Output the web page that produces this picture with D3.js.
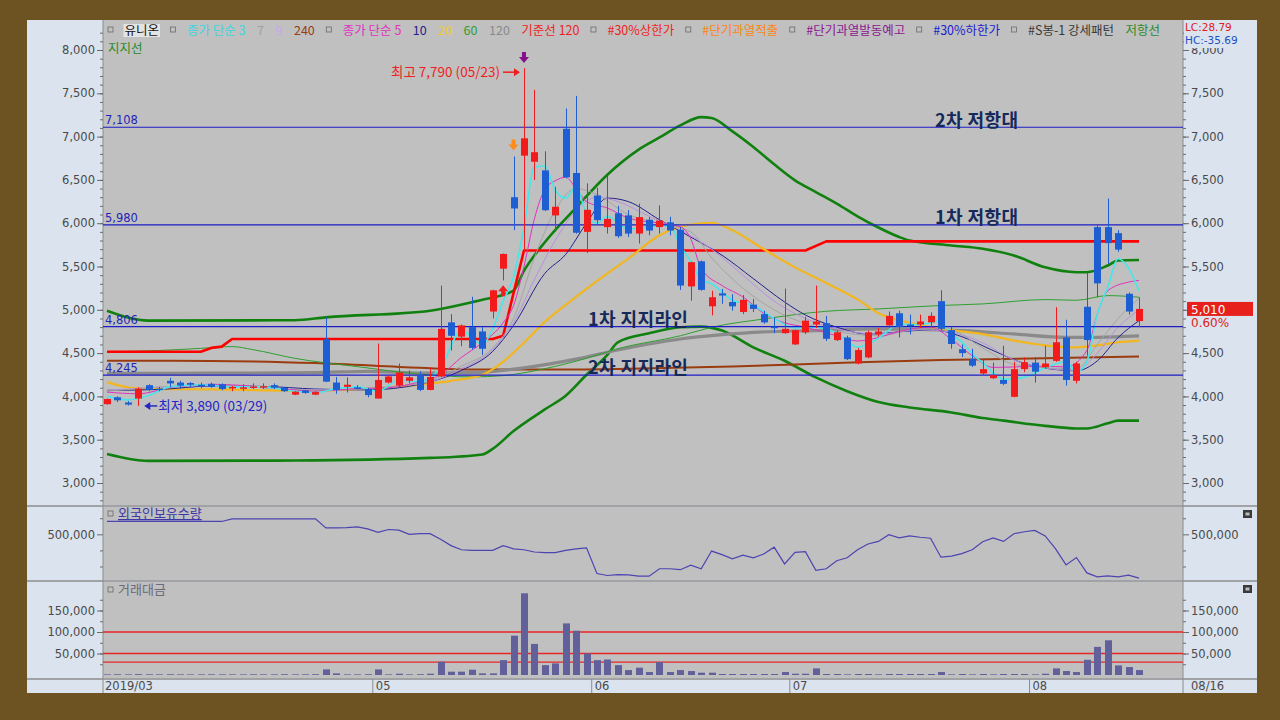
<!DOCTYPE html>
<html><head><meta charset="utf-8">
<script src="https://cdn.jsdelivr.net/npm/d3@7"></script>
<style>body{margin:0;background:#6e5322;}svg{display:block;}</style>
</head><body><svg id="c" width="1280" height="720"></svg>
<script>
// ---------------- DATA ----------------
const dates = ["03/26","03/27","03/28","03/29",
"04/01","04/02","04/03","04/04","04/05","04/08","04/09","04/10","04/11","04/12","04/15","04/16","04/17","04/18","04/19","04/22","04/23","04/24","04/25","04/26","04/29","04/30",
"05/02","05/03","05/07","05/08","05/09","05/10","05/13","05/14","05/15","05/16","05/17","05/20","05/21","05/22","05/23","05/24","05/27","05/28","05/29","05/30","05/31",
"06/03","06/04","06/05","06/07","06/10","06/11","06/12","06/13","06/14","06/17","06/18","06/19","06/20","06/21","06/24","06/25","06/26","06/27","06/28",
"07/01","07/02","07/03","07/04","07/05","07/08","07/09","07/10","07/11","07/12","07/15","07/16","07/17","07/18","07/19","07/22","07/23","07/24","07/25","07/26","07/29","07/30","07/31",
"08/01","08/02","08/05","08/06","08/07","08/08","08/09","08/12","08/13","08/14","08/16"];
const open  = [3910,3990,3930,3975,4130,4090,4180,4160,4155,4135,4145,4140,4100,4100,4105,4110,4130,4100,4020,4070,4020,4660,4160,4110,4105,4085,3975,4160,4125,4180,4240,4075,4230,4855,4690,4800,4750,4980,5475,6300,6780,6710,6610,6090,7090,6580,5900,6320,5955,6115,6090,5880,6040,5955,6010,5925,5270,5560,5040,5190,5090,4975,5060,4950,4805,4730,4600,4740,4830,4845,4650,4680,4380,4450,4715,4820,4960,4830,4830,4855,5100,4765,4545,4430,4265,4210,4190,3995,4315,4390,4335,4410,4680,4180,5035,5955,5955,5885,5185,4870];
const high  = [3975,4000,3945,4105,4140,4110,4215,4180,4165,4160,4160,4150,4120,4140,4150,4150,4150,4110,4060,4075,4060,4910,4225,4220,4130,4100,4610,4240,4380,4300,4290,4335,5280,4950,4830,5150,4800,5230,5650,6770,7790,7540,6830,6420,7325,7470,6460,6410,6550,6200,6150,6225,6070,6205,6075,5955,5555,5570,5220,5240,5180,5170,5125,4990,4910,5245,4770,4920,5280,4930,4760,4700,4560,4760,4790,4980,4990,4945,4945,4970,5225,4800,4600,4550,4430,4390,4585,4400,4450,4450,4585,5030,4885,4400,5425,5980,6285,5920,5200,5145];
const low   = [3905,3935,3895,3890,4060,4060,4105,4090,4110,4095,4100,4070,4060,4060,4085,4085,4085,4050,4015,4030,4015,4165,4030,4045,4080,3990,3975,4150,4100,4150,4060,4070,4225,4530,4580,4540,4480,4900,5340,5920,5670,6500,6140,5900,6520,5880,5655,5995,5880,5830,5840,5765,5860,5880,5860,5230,5105,5220,4935,5070,4990,4950,4975,4840,4730,4725,4595,4720,4790,4640,4640,4420,4370,4440,4690,4790,4680,4715,4790,4800,4760,4550,4455,4340,4240,4200,4130,3990,4280,4160,4320,4400,4125,4150,4470,5145,5530,5670,4945,4800];
const close = [3970,3955,3905,4090,4075,4085,4150,4125,4135,4130,4110,4085,4110,4105,4115,4118,4100,4060,4055,4040,4050,4170,4075,4135,4100,4015,4190,4230,4275,4220,4075,4225,4780,4700,4820,4560,4550,5225,5645,6170,6980,6820,6150,6190,6530,5890,6155,6035,6050,5850,5880,6070,5915,6030,5915,5280,5550,5230,5145,5165,5040,5115,5010,4855,4795,4780,4765,4875,4865,4665,4740,4430,4535,4740,4750,4930,4800,4825,4865,4930,4780,4605,4500,4355,4315,4245,4145,4315,4395,4285,4380,4625,4190,4380,4650,5305,5770,5695,4980,5010];

// moving averages / bands: [day index, value]
const ma3   = [[0,4000],[2,3960],[4,4010],[6,4110],[9,4135],[12,4110],[15,4110],[18,4060],[20,4045],[22,4090],[24,4110],[26,4060],[28,4190],[30,4170],[32,4330],[34,4760],[36,4600],[37,4780],[38,5100],[39,5380],[40,5950],[41,6650],[42,6660],[43,6380],[44,6290],[45,6420],[46,6100],[47,6000],[48,6080],[50,5930],[52,5960],[54,5970],[55,5740],[56,5560],[57,5350],[58,5300],[60,5110],[62,5050],[64,4900],[66,4790],[68,4800],[70,4730],[72,4570],[74,4670],[76,4830],[78,4830],[80,4870],[81,4720],[82,4630],[83,4490],[84,4390],[86,4200],[88,4220],[90,4330],[92,4400],[93,4280],[94,4400],[95,4950],[96,5260],[97,5590],[98,5480],[99,5220]];
const ma5   = [[0,4050],[3,4030],[6,4100],[10,4140],[15,4110],[20,4060],[24,4090],[27,4100],[30,4170],[32,4250],[34,4450],[36,4620],[38,4850],[39,5050],[40,5500],[41,6050],[42,6390],[43,6490],[44,6530],[45,6400],[46,6250],[48,6175],[50,6060],[53,6000],[55,5960],[56,5820],[57,5480],[59,5280],[61,5150],[63,4960],[65,4850],[67,4800],[70,4700],[72,4640],[74,4680],[76,4750],[79,4800],[81,4660],[83,4470],[85,4335],[87,4340],[90,4350],[92,4340],[94,4530],[95,4950],[96,5220],[98,5320],[99,5340]];
const ma7   = [[0,4060],[10,4130],[20,4070],[30,4150],[34,4350],[37,4560],[39,4900],[41,5600],[43,6150],[45,6400],[47,6330],[50,6100],[53,6000],[56,5900],[58,5600],[61,5250],[64,5000],[67,4840],[70,4750],[74,4700],[78,4780],[81,4760],[84,4560],[87,4370],[90,4330],[93,4320],[95,4600],[97,4900],[99,5130]];
const ma9   = [[0,4070],[10,4125],[20,4075],[30,4145],[34,4320],[37,4540],[39,4850],[41,5350],[43,5800],[45,6150],[47,6300],[49,6250],[52,6080],[55,5920],[58,5700],[61,5400],[64,5100],[67,4900],[70,4780],[74,4720],[78,4770],[81,4740],[84,4620],[87,4420],[90,4330],[93,4300],[95,4500],[97,4800],[99,5000]];
const ma10  = [[0,4070],[5,4080],[10,4120],[15,4115],[20,4085],[25,4075],[30,4140],[34,4300],[37,4520],[39,4820],[42,5420],[44,5640],[46,6000],[48,6290],[50,6250],[53,6040],[56,5840],[59,5630],[62,5360],[65,5090],[67,4940],[70,4800],[73,4720],[76,4745],[79,4770],[82,4690],[85,4530],[88,4380],[91,4310],[93,4296],[95,4410],[97,4680],[99,4875]];
const ma20  = [[0,4165],[3,4090],[10,4080],[20,4065],[25,4090],[30,4135],[33,4180],[36,4250],[38,4400],[40,4620],[42,4860],[45,5150],[48,5420],[50,5590],[53,5860],[56,5985],[58,6005],[60,5920],[63,5700],[66,5490],[69,5310],[72,5120],[74,4960],[77,4850],[80,4780],[84,4720],[87,4645],[90,4590],[93,4566],[95,4590],[97,4625],[99,4645]];
const ma60  = [[0,4515],[5,4530],[9,4555],[12,4575],[14,4540],[18,4440],[24,4344],[30,4258],[35,4225],[38,4240],[42,4320],[46,4440],[49,4551],[55,4700],[58,4798],[63,4894],[69,4983],[74,5010],[80,5050],[84,5068],[90,5118],[93,5110],[96,5164],[99,5145]];
const ma120 = [[0,4265],[10,4268],[20,4275],[25,4290],[30,4270],[35,4275],[40,4330],[45,4430],[49,4536],[52,4605],[55,4663],[59,4713],[62,4740],[68,4760],[74,4779],[82,4760],[87,4721],[92,4682],[95,4682],[99,4698]];
const ma240 = [[0,4413],[10,4410],[20,4385],[30,4330],[35,4310],[45,4310],[50,4318],[60,4345],[70,4385],[80,4420],[90,4440],[99,4460]];
const baseLine120 = [[0,4516],[9,4516],[10,4560],[11,4575],[12,4663],[37,4663],[38,4700],[40,5685],[67,5685],[69,5790],[99,5790]];
const resistBand = [[0,4990],[4,4875],[18,4880],[21,4913],[31,4990],[35,5088],[36,5116],[39,5222],[40,5450],[42,5780],[45,6180],[48,6560],[51,6850],[53,6990],[55,7130],[57,7225],[58,7215],[60,7060],[62,6880],[64,6680],[66,6495],[68,6360],[70,6226],[72,6080],[74,5950],[76,5840],[77,5800],[81,5743],[84,5705],[87,5627],[90,5490],[93,5434],[94,5434],[96,5511],[97,5570],[99,5575]];
const supportBand = [[0,3335],[4,3255],[18,3260],[31,3290],[36,3330],[37,3394],[39,3600],[42,3850],[44,4007],[46,4250],[48,4480],[49,4624],[52,4728],[55,4798],[57,4806],[59,4760],[62,4566],[65,4412],[68,4219],[71,4060],[74,3935],[77,3872],[81,3815],[84,3750],[86,3720],[90,3660],[93,3630],[94,3630],[96,3690],[97,3720],[99,3720]];
const levels = [7108, 5980, 4806, 4245];

const foreignHold = [540000,540000,540000,540000,540000,540000,540000,540000,540000,540000,540000,540000,
548000,548000,548000,548000,548000,548000,548000,548000,548000,
520000,520000,521000,523000,517000,506000,515000,513000,500000,502000,502000,485000,465000,452000,450000,450000,450000,465000,455000,452000,445000,443000,443000,450000,455000,458000,378000,372000,375000,374000,
370000,370000,393000,393000,390000,404000,393000,448000,437000,424000,435000,427000,439000,460000,408000,444000,446000,388000,393000,418000,427000,452000,470000,478000,499000,489000,495000,491000,488000,429000,432000,440000,452000,477000,489000,478000,502000,508000,512000,495000,455000,405000,428000,380000,368000,371000,368000,373000,364000];
const tradeValue = [1500,1800,1500,2000,1600,1500,1800,1500,1400,1500,1600,1500,1500,1400,1600,1500,1500,1800,1500,1600,
1800,13000,3800,1500,1500,1800,13000,1500,3000,1500,1800,3000,30800,7700,7700,12300,3800,3800,34600,91500,190000,72300,23000,27000,120000,103000,50000,34600,36000,23000,11500,17000,6900,30000,6900,11500,9200,5400,5400,2300,2300,2300,2300,2300,2300,6900,3000,3000,15400,2300,2300,1500,2300,2300,1500,2300,2300,2300,2300,2300,6900,1500,2300,1500,2300,1500,2300,2300,2300,1500,3000,15400,9200,6900,35400,65400,80700,22300,18500,11500];
const tradeRefLines = [100000, 50000, 30000];

const priceTicks = [3000,3500,4000,4500,5000,5500,6000,6500,7000,7500,8000];
const foreignTicks = [500000];
const tradeTicks = [50000,100000,150000];
const monthTicks = [["03/26","2019/03"],["05/02","05"],["06/03","06"],["07/01","07"],["08/01","08"]];
const lastDateLabel = "08/16";

// ---------------- LAYOUT ----------------
const svg = d3.select("#c");
const PL = 103, PR = 1183;
const AX = "DejaVu Sans", KR = "Noto Sans CJK KR";
svg.append("rect").attr("width",1280).attr("height",720).attr("fill","#6e5322");
svg.append("rect").attr("x",27).attr("y",20).attr("width",1230).attr("height",673).attr("fill","#dae3ee");
const panels = [[20,505],[507,580],[582,678]];
panels.forEach(([a,b]) => svg.append("rect").attr("x",PL).attr("y",a).attr("width",PR-PL).attr("height",b-a).attr("fill","#c0c0c0"));
[506,581,679].forEach(v => svg.append("line").attr("x1",27).attr("x2",1257).attr("y1",v).attr("y2",v).attr("stroke","#8c8c8c").attr("stroke-width",1.5));
[PL,PR].forEach(v => svg.append("line").attr("x1",v).attr("x2",v).attr("y1",20).attr("y2",693).attr("stroke","#8c8c8c"));

const x = d3.scalePoint().domain(dates).range([107,1139]);
const step = x.step();
const y = d3.scaleLinear().domain([3000,8000]).range([483,50]);
const yF = d3.scaleLinear().domain([358000,585000]).range([580,507]);
const yV = d3.scaleLinear().domain([0,150000]).range([675,610.5]);

svg.append("clipPath").attr("id","cm").append("rect").attr("x",PL).attr("y",20).attr("width",PR-PL).attr("height",485);
svg.append("clipPath").attr("id","cf").append("rect").attr("x",PL).attr("y",507).attr("width",PR-PL).attr("height",73);
svg.append("clipPath").attr("id","cv").append("rect").attr("x",PL).attr("y",582).attr("width",PR-PL).attr("height",96);
// local coords of the right-axis group (translated by PR)
svg.append("clipPath").attr("id","cr").append("rect").attr("x",0).attr("y",48).attr("width",80).attr("height",460);

// axes
function styleAxis(g){ g.select(".domain").remove(); g.selectAll("line").attr("stroke","#6a6a6a");
  g.selectAll("text").attr("fill","#4a4a4a").style("font-family",AX).style("font-size","11.5px"); }
function axisPair(scale, major, minor, fmt, clipRight){
  [[d3.axisLeft, PL],[d3.axisRight, PR]].forEach(([fn,pos],k)=>{
    svg.append("g").attr("transform",`translate(${pos},0)`).call(fn(scale).tickValues(minor).tickSize(3).tickFormat("")).call(styleAxis);
    const g = svg.append("g").attr("transform",`translate(${pos},0)`).call(fn(scale).tickValues(major).tickSize(6).tickPadding(2).tickFormat(fmt)).call(styleAxis);
    if(k===1 && clipRight) g.attr("clip-path","url(#cr)");
  });
}
const fmt = d3.format(",");
axisPair(y, priceTicks, d3.range(2800,8201,100), fmt, true);
axisPair(yF, foreignTicks, [400000,450000,550000], fmt, false);
axisPair(yV, tradeTicks, d3.range(25000,175001,25000), fmt, false);

// bottom date axis
const bx = svg.append("g");
monthTicks.forEach(([d,lab],k)=>{
  const xp = x(d) - step/2;
  if(k>0) bx.append("line").attr("x1",xp).attr("x2",xp).attr("y1",679).attr("y2",693).attr("stroke","#8c8c8c");
  bx.append("text").attr("x", k===0 ? 105 : xp+3).attr("y",690).text(lab).attr("fill","#4a4a4a").style("font-family",AX).style("font-size","11.5px");
});
bx.append("text").attr("x",1191).attr("y",690).text(lastDateLabel).attr("fill","#4a4a4a").style("font-family",AX).style("font-size","11.5px");

// ---------------- MAIN PANEL ----------------
const main = svg.append("g").attr("clip-path","url(#cm)");
const lineGen = (curve) => d3.line().x(d=>x(dates[d[0]])).y(d=>y(d[1])).curve(curve);
function drawLine(data, color, w, curve){ main.append("path").datum(data).attr("d", lineGen(curve||d3.curveLinear)).attr("fill","none").attr("stroke",color).attr("stroke-width",w).attr("stroke-linejoin","round"); }
drawLine(resistBand, "#10800f", 2.6, d3.curveMonotoneX);
drawLine(supportBand, "#10800f", 2.6, d3.curveMonotoneX);
drawLine(ma240, "#9a3c10", 2, d3.curveMonotoneX);
drawLine(ma120, "#8a8a8a", 3.2, d3.curveMonotoneX);
drawLine(ma60, "#2f9f2f", 1, d3.curveMonotoneX);
drawLine(baseLine120, "#ff0000", 2.6, d3.curveLinear);
drawLine(ma20, "#f2b61e", 2.2, d3.curveMonotoneX);
drawLine(ma10, "#22228a", 1, d3.curveMonotoneX);
drawLine(ma9, "#b890e0", 1, d3.curveMonotoneX);
drawLine(ma7, "#a4a4a4", 1, d3.curveMonotoneX);
drawLine(ma5, "#e032c0", 1, d3.curveMonotoneX);
drawLine(ma3, "#46e6ea", 1.6, d3.curveMonotoneX);

// level lines
levels.forEach(v=>{
  main.append("line").attr("x1",PL).attr("x2",PR).attr("y1",y(v)).attr("y2",y(v)).attr("stroke","#1c1cc8").attr("stroke-width",1.2);
  main.append("text").attr("x",105).attr("y",y(v)-3).text(fmt(v)).attr("fill","#2424b8").style("font-family",AX).style("font-size","11.5px");
});

// candles
const cw = 7;
const cg = main.append("g");
const idx = d3.range(dates.length);
cg.selectAll("line.w").data(idx).join("line")
  .attr("x1",i=>Math.round(x(dates[i]))+0.5).attr("x2",i=>Math.round(x(dates[i]))+0.5)
  .attr("y1",i=>y(high[i])).attr("y2",i=>y(low[i]))
  .attr("stroke",i=>close[i]>=open[i]?"#f21a1a":"#1d5fd3").attr("stroke-width",1);
cg.selectAll("rect.b").data(idx).join("rect")
  .attr("x",i=>Math.round(x(dates[i]))+0.5-cw/2).attr("width",cw)
  .attr("y",i=>y(Math.max(open[i],close[i])))
  .attr("height",i=>Math.max(1.5, Math.abs(y(open[i])-y(close[i]))))
  .attr("fill",i=>close[i]>=open[i]?"#f21a1a":"#1d5fd3");

// annotations
const ann = svg.append("g").style("font-family",KR).style("font-weight","bold").style("font-size","18px").style("letter-spacing","0.4px").attr("fill","#15295a");
[["2차 저항대",935,127],["1차 저항대",935,224],["1차 지지라인",588,326],["2차 지지라인",588,374]].forEach(([t,a,b])=>ann.append("text").attr("x",a).attr("y",b).text(t));

// high / low markers
const iHigh = d3.maxIndex(high), iLow = d3.minIndex(low);
const hx = x(dates[iHigh]), hy = y(high[iHigh]);
svg.append("text").attr("x",hx-24).attr("y",hy+8.5).attr("text-anchor","end").text(`최고 ${fmt(high[iHigh])} (${dates[iHigh]})`).attr("fill","#f01e1e").style("font-family",KR).style("font-size","13.5px");
svg.append("line").attr("x1",hx-21).attr("x2",hx-9).attr("y1",hy+4).attr("y2",hy+4).attr("stroke","#f01e1e").attr("stroke-width",1.5);
svg.append("path").attr("d",`M${hx-4},${hy+4} L${hx-10},${hy} L${hx-10},${hy+8} Z`).attr("fill","#f01e1e");
const lx = x(dates[iLow]), ly = y(low[iLow]);
svg.append("path").attr("d",`M${lx+6},${ly} L${lx+12},${ly-4} L${lx+12},${ly+4} Z`).attr("fill","#2424c8");
svg.append("line").attr("x1",lx+11).attr("x2",lx+19).attr("y1",ly).attr("y2",ly).attr("stroke","#2424c8").attr("stroke-width",1.5);
svg.append("text").attr("x",lx+20).attr("y",ly+5).text(`최저 ${fmt(low[iLow])} (${dates[iLow]})`).attr("fill","#2424c8").style("font-family",KR).style("font-size","13.5px");
// signal arrows
function downArrow(cx, top, col){ svg.append("path").attr("d",`M${cx-2},${top} h4 v5 h3 l-5,6 l-5,-6 h3 Z`).attr("fill",col); }
function upArrow(cx, top, col){ svg.append("path").attr("d",`M${cx},${top} l5,6 h-3 v5 h-4 v-5 h-3 Z`).attr("fill",col); }
downArrow(x(dates[iHigh]), 52, "#84118a");
downArrow(x(dates[iHigh-1]), y(high[iHigh-1])-17, "#ff8c1a");
upArrow(x(dates[iHigh-2]), y(low[iHigh-2])+5, "#f01e1e");

// legend
const legendItems = [
 {sq:1},{t:"유니온",c:"#101010",bg:1},
 {sq:1},{t:"종가 단순 3",c:"#3cd6e0"},{t:"7",c:"#a0a0a0"},{t:"9",c:"#c8a8ec"},{t:"240",c:"#9a3c10"},
 {sq:1},{t:"종가 단순 5",c:"#e032c0"},{t:"10",c:"#22228a"},{t:"20",c:"#f0c838"},{t:"60",c:"#2f9f2f"},{t:"120",c:"#8a8a8a"},{t:"기준선 120",c:"#f01e1e"},
 {sq:1},{t:"#30%상한가",c:"#f01e1e"},
 {sq:1},{t:"#단기과열적출",c:"#ff8418"},
 {sq:1},{t:"#단기과열발동예고",c:"#8a1890"},
 {sq:1},{t:"#30%하한가",c:"#1c1cd0"},
 {sq:1},{t:"#S봉-1 강세패턴",c:"#3a3a3a"},
 {t:"저항선",c:"#2a8a2a"}
];
const lg = svg.append("g").style("font-family",KR).style("font-size","12.5px");
const nodes = legendItems.map(it=>{
  if(it.sq){ const r = lg.append("rect").attr("width",5).attr("height",5).attr("fill","none").attr("stroke","#6a6a6a").attr("stroke-width",0.8); return {n:r,w:5,sq:1}; }
  const t = lg.append("text").text(it.t).attr("fill",it.c); return {n:t,w:t.node().getComputedTextLength(),bg:it.bg};
});
const totalW = d3.sum(nodes,d=>d.w);
const gap = (1160-108-totalW)/(nodes.length-1);
let cx = 108;
nodes.forEach(d=>{
  if(d.sq){ d.n.attr("x",cx).attr("y",27); }
  else { if(d.bg) lg.insert("rect","text").attr("x",cx-1).attr("y",24).attr("width",d.w+2).attr("height",13).attr("fill","#e4e4e4"); d.n.attr("x",cx).attr("y",34.5); }
  cx += d.w + gap;
});
svg.append("text").attr("x",108).attr("y",53).text("지지선").attr("fill","#2a8a2a").style("font-family",KR).style("font-size","12.5px");

// right-top info box
svg.append("rect").attr("x",1184).attr("y",21).attr("width",72).attr("height",26).attr("fill","#dae3ee");
svg.append("text").attr("x",1185).attr("y",31).text("LC:28.79").attr("fill","#e02020").style("font-family",AX).style("font-size","10.5px");
svg.append("text").attr("x",1185).attr("y",44).text("HC:-35.69").attr("fill","#2050c0").style("font-family",AX).style("font-size","10.5px");
// last price tag
const lastC = close[close.length-1], prevC = close[close.length-2];
const ty = y(lastC);
svg.append("rect").attr("x",1187).attr("y",ty-7).attr("width",66).attr("height",14).attr("fill","#e8201c");
svg.append("text").attr("x",1191).attr("y",ty+5).text(fmt(lastC)).attr("fill","#ffffff").style("font-family",AX).style("font-size","12px");
svg.append("text").attr("x",1191).attr("y",ty+18).text(d3.format(".2f")((lastC-prevC)/prevC*100)+"%").attr("fill","#e02020").style("font-family",AX).style("font-size","12px");

// ---------------- FOREIGN HOLDINGS PANEL ----------------
const fg = svg.append("g").attr("clip-path","url(#cf)");
fg.append("path").datum(foreignHold).attr("d", d3.line().x((d,i)=>x(dates[i])).y(d=>yF(d))).attr("fill","none").attr("stroke","#4c44b0").attr("stroke-width",1.2);
svg.append("rect").attr("x",108).attr("y",511).attr("width",5).attr("height",5).attr("fill","none").attr("stroke","#6a6a6a").attr("stroke-width",0.8);
svg.append("text").attr("x",118).attr("y",518).text("외국인보유수량").attr("fill","#4038a8").style("font-family",KR).style("font-size","13px").style("text-decoration","underline");

// ---------------- TRADE VALUE PANEL ----------------
const vg = svg.append("g").attr("clip-path","url(#cv)");
tradeRefLines.forEach(v=> vg.append("line").attr("x1",PL).attr("x2",PR).attr("y1",yV(v)).attr("y2",yV(v)).attr("stroke","#e82424").attr("stroke-width",1.3));
vg.selectAll("rect.v").data(tradeValue).join("rect")
  .attr("x",(d,i)=>Math.round(x(dates[i]))+0.5-cw/2).attr("width",cw)
  .attr("y",d=>yV(d)).attr("height",d=>yV(0)-yV(d)).attr("fill","#62609a");
svg.append("rect").attr("x",108).attr("y",587).attr("width",5).attr("height",5).attr("fill","none").attr("stroke","#6a6a6a").attr("stroke-width",0.8);
svg.append("text").attr("x",118).attr("y",594).text("거래대금").attr("fill","#6a6a7a").style("font-family",KR).style("font-size","13px");

// panel icons
[510,585].forEach(v=>{ svg.append("rect").attr("x",1243).attr("y",v).attr("width",9).attr("height",8).attr("fill","#3a3a3a");
  svg.append("rect").attr("x",1245.5).attr("y",v+2.5).attr("width",4).attr("height",3).attr("fill","#bcbcbc"); });
</script></body></html>
